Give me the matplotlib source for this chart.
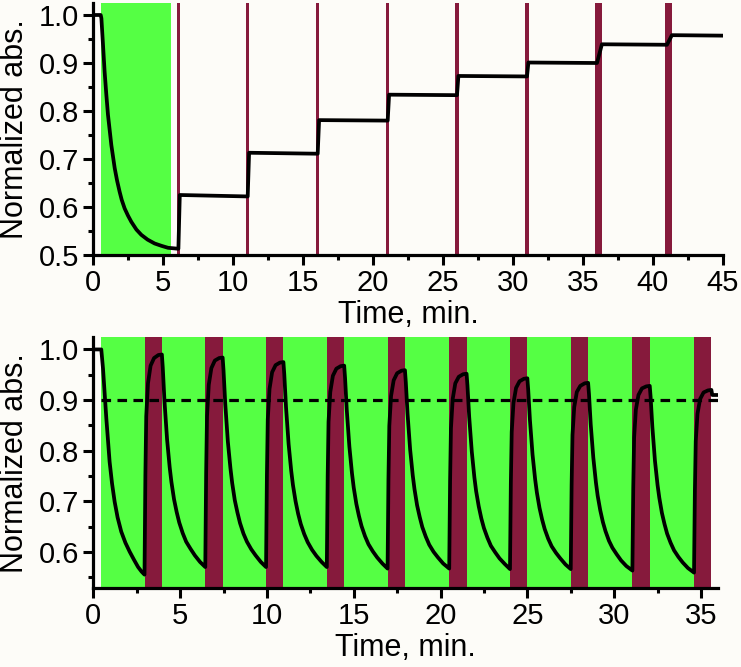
import matplotlib
matplotlib.use('Agg')
import matplotlib.pyplot as plt
from matplotlib.ticker import MultipleLocator, FormatStrFormatter

plt.rcParams['font.family'] = ['Liberation Sans', 'DejaVu Sans']

GREEN = '#55FF44'
MAROON = '#861A3C'
BG = '#FDFCF8'

# ---- top panel: one long green exposure, then short pulses ----
top_time = [0, 0.55, 0.6, 0.7, 0.83, 0.95, 1.07, 1.2, 1.31, 1.55, 1.72, 1.9, 2.05, 2.26,
            2.5, 2.74, 3.1, 3.45, 3.9, 4.4, 4.9, 5.36, 6.1,
            6.2, 11.05, 11.15, 16.05, 16.15, 21.05, 21.15, 26.0, 26.1, 31.0, 31.1,
            36.0, 36.35, 41.0, 41.35, 45.0]
top_abs = [1.0, 1.0, 0.993, 0.945, 0.882, 0.835, 0.792, 0.758, 0.729, 0.681, 0.655, 0.632, 0.615, 0.597,
           0.582, 0.569, 0.553, 0.542, 0.532, 0.524, 0.519, 0.515, 0.513,
           0.625, 0.622, 0.713, 0.711, 0.781, 0.780, 0.834, 0.833, 0.873, 0.872, 0.901,
           0.900, 0.939, 0.938, 0.958, 0.957]
top_green = (0.55, 5.55)
top_pulse_t = [6.1, 11.05, 16.05, 21.05, 26.0, 31.0, 36.1, 41.1]
top_pulse_w = [0.22, 0.22, 0.22, 0.22, 0.22, 0.22, 0.45, 0.45]

# ---- bottom panel: green background with 1 min pulses ----
bot_time = [0, 0.46, 0.56, 0.65, 0.75, 0.85, 0.94, 1.08, 1.23, 1.4, 1.61, 1.85, 2.10, 2.35, 2.58, 2.78, 2.95,
            3.0, 3.05, 3.15, 3.3, 3.5, 3.75, 3.95,
            4.0, 4.1, 4.25, 4.4, 4.5, 4.65, 4.8, 4.95, 5.15, 5.35, 5.6, 5.85, 6.15, 6.45,
            6.5, 6.55, 6.65, 6.8, 7.0, 7.25, 7.45,
            7.5, 7.6, 7.75, 7.9, 8.0, 8.15, 8.3, 8.45, 8.65, 8.85, 9.1, 9.35, 9.65, 9.95,
            10.0, 10.05, 10.15, 10.3, 10.5, 10.75, 10.95,
            11.0, 11.1, 11.25, 11.4, 11.5, 11.65, 11.8, 11.95, 12.15, 12.35, 12.6, 12.85, 13.15, 13.45,
            13.5, 13.55, 13.65, 13.8, 14.0, 14.25, 14.45,
            14.5, 14.6, 14.75, 14.9, 15.0, 15.15, 15.3, 15.45, 15.65, 15.85, 16.1, 16.35, 16.65, 16.95,
            17.0, 17.05, 17.15, 17.3, 17.5, 17.75, 17.95,
            18.0, 18.1, 18.25, 18.4, 18.5, 18.65, 18.8, 18.95, 19.15, 19.35, 19.6, 19.85, 20.15, 20.5,
            20.55, 20.6, 20.7, 20.85, 21.05, 21.3, 21.5,
            21.55, 21.65, 21.8, 21.95, 22.05, 22.2, 22.35, 22.5, 22.7, 22.9, 23.15, 23.4, 23.7, 24.0,
            24.05, 24.1, 24.2, 24.35, 24.55, 24.8, 25.0,
            25.05, 25.15, 25.3, 25.45, 25.55, 25.7, 25.85, 26.0, 26.2, 26.4, 26.65, 26.9, 27.2, 27.5,
            27.55, 27.6, 27.7, 27.85, 28.05, 28.3, 28.5,
            28.55, 28.65, 28.8, 28.95, 29.05, 29.2, 29.35, 29.5, 29.7, 29.9, 30.15, 30.4, 30.7, 31.05,
            31.1, 31.15, 31.25, 31.4, 31.6, 31.85, 32.05,
            32.1, 32.2, 32.35, 32.5, 32.6, 32.75, 32.9, 33.05, 33.25, 33.45, 33.7, 33.95, 34.25, 34.6,
            34.65, 34.7, 34.8, 34.95, 35.15, 35.4, 35.6,
            35.65, 36.0]
bot_abs = [1.0, 1.0, 0.962, 0.915, 0.864, 0.820, 0.778, 0.735, 0.699, 0.668, 0.640, 0.618, 0.600, 0.584, 0.570, 0.561, 0.555,
           0.751, 0.868, 0.933, 0.968, 0.983, 0.989, 0.990,
           0.965, 0.898, 0.822, 0.767, 0.738, 0.704, 0.679, 0.658, 0.637, 0.620, 0.606, 0.593, 0.580, 0.570,
           0.756, 0.868, 0.930, 0.963, 0.978, 0.983, 0.984,
           0.959, 0.893, 0.818, 0.765, 0.736, 0.702, 0.678, 0.657, 0.636, 0.620, 0.605, 0.593, 0.580, 0.570,
           0.752, 0.862, 0.922, 0.955, 0.969, 0.974, 0.975,
           0.951, 0.886, 0.813, 0.760, 0.732, 0.700, 0.675, 0.655, 0.635, 0.619, 0.604, 0.592, 0.580, 0.570,
           0.749, 0.857, 0.916, 0.948, 0.962, 0.967, 0.968,
           0.944, 0.880, 0.808, 0.755, 0.727, 0.695, 0.671, 0.651, 0.631, 0.615, 0.601, 0.589, 0.577, 0.567,
           0.743, 0.849, 0.908, 0.939, 0.953, 0.958, 0.959,
           0.935, 0.873, 0.802, 0.751, 0.724, 0.692, 0.669, 0.649, 0.630, 0.614, 0.600, 0.589, 0.577, 0.567,
           0.740, 0.844, 0.902, 0.933, 0.946, 0.951, 0.952,
           0.929, 0.867, 0.798, 0.747, 0.720, 0.690, 0.666, 0.647, 0.628, 0.612, 0.599, 0.587, 0.576, 0.566,
           0.736, 0.837, 0.894, 0.924, 0.937, 0.942, 0.943,
           0.920, 0.860, 0.792, 0.743, 0.717, 0.687, 0.664, 0.645, 0.626, 0.611, 0.598, 0.587, 0.575, 0.566,
           0.732, 0.831, 0.886, 0.916, 0.928, 0.933, 0.934,
           0.912, 0.852, 0.786, 0.737, 0.711, 0.682, 0.659, 0.641, 0.622, 0.608, 0.595, 0.583, 0.572, 0.563,
           0.727, 0.826, 0.881, 0.910, 0.923, 0.927, 0.928,
           0.906, 0.847, 0.780, 0.732, 0.707, 0.677, 0.655, 0.636, 0.618, 0.603, 0.590, 0.579, 0.568, 0.559,
           0.721, 0.819, 0.873, 0.902, 0.915, 0.919, 0.920,
           0.910, 0.910]
bot_green = (0.45, 35.6)
bot_pulse_start = [2.95, 6.45, 9.95, 13.45, 16.95, 20.5, 24.0, 27.5, 31.05, 34.6]
bot_pulse_len = 1.0
threshold = 0.9

fig = plt.figure(figsize=(7.41, 6.67), dpi=100, facecolor=BG)
ax1 = fig.add_axes([0.1255, 0.6177, 0.8502, 0.3778])
ax2 = fig.add_axes([0.1259, 0.1180, 0.8435, 0.3763])

# top
ax1.axvspan(*top_green, color=GREEN, lw=0, zorder=1)
for t, w in zip(top_pulse_t, top_pulse_w):
    ax1.axvspan(t - w / 2, t + w / 2, color=MAROON, lw=0, zorder=2)
ax1.plot(top_time, top_abs, color='black', lw=2.7, zorder=3, solid_joinstyle='round')
ax1.set_xlim(0, 45)
ax1.set_ylim(0.5, 1.025)
ax1.xaxis.set_major_locator(MultipleLocator(5))
ax1.xaxis.set_minor_locator(MultipleLocator(2.5))

# bottom
ax2.axvspan(*bot_green, color=GREEN, lw=0, zorder=1)
for s in bot_pulse_start:
    ax2.axvspan(s, s + bot_pulse_len, color=MAROON, lw=0, zorder=2)
ax2.plot([bot_green[0], 36], [threshold, threshold], color='black', lw=2.3,
         ls=(0, (3, 2)), zorder=3)
ax2.plot(bot_time, bot_abs, color='black', lw=2.7, zorder=4, solid_joinstyle='round')
ax2.set_xlim(0, 36)
ax2.set_ylim(0.528, 1.024)
ax2.xaxis.set_major_locator(MultipleLocator(5))
ax2.xaxis.set_minor_locator(MultipleLocator(2.5))

for ax in (ax1, ax2):
    ax.set_facecolor(BG)
    ax.spines['top'].set_visible(False)
    ax.spines['right'].set_visible(False)
    for sp in ('left', 'bottom'):
        ax.spines[sp].set_linewidth(2.3)
        ax.spines[sp].set_zorder(5)
    ax.yaxis.set_major_locator(MultipleLocator(0.1))
    ax.yaxis.set_minor_locator(MultipleLocator(0.05))
    ax.yaxis.set_major_formatter(FormatStrFormatter('%.1f'))
    ax.tick_params(which='major', direction='out', length=7, width=2.2,
                   labelsize=21, pad=3)
    ax.tick_params(which='minor', direction='out', length=3.5, width=2.2)
    ax.set_xlabel('Time, min.', fontsize=22)
    ax.set_ylabel('Normalized abs.', fontsize=22)
    ax.xaxis.set_label_coords(0.5, -0.178)

ax1.yaxis.set_label_coords(-0.10, 0.5)
ax2.yaxis.set_label_coords(-0.101, 0.5)

fig.savefig('out.png', dpi=100, facecolor=BG)
